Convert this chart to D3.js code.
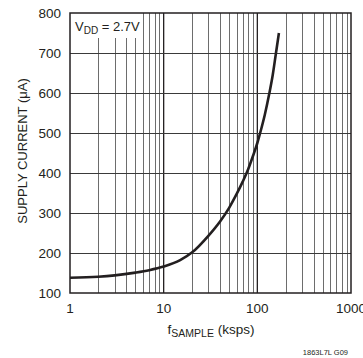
<!DOCTYPE html>
<html>
<head>
<meta charset="utf-8">
<script src="https://cdn.jsdelivr.net/npm/d3@7"></script>
<style>
  body { margin: 0; background: #fff; }
  text { font-family: 'Liberation Sans', Arial, sans-serif; fill: #231f20; }
</style>
</head>
<body>
<div id="chart"></div>
<script>
// data
const freq = [1, 2, 3, 5, 7, 10, 15, 20, 30, 40, 50, 60, 70, 80, 90, 100, 110, 120, 134, 146, 157, 170]
const current = [138, 140.5, 144, 151, 157, 166, 182, 201, 243, 279, 313, 347, 379, 410, 443, 475, 510, 545, 598, 645, 695, 750]
const yTicks = [100, 200, 300, 400, 500, 600, 700, 800]
const xTicks = [1, 10, 100, 1000]

const width = 363
const height = 358
const margin = { top: 13, left: 70, right: 12, bottom: 65 }

const svg = d3.select('#chart')
  .append('svg')
  .attr('width', width)
  .attr('height', height)

const x = d3.scaleLog().domain([1, 1000]).range([margin.left, width - margin.right])
const y = d3.scaleLinear().domain([100, 800]).range([height - margin.bottom, margin.top])

// minor grid (2..9 of each decade)
const minor = []
for (let d = 1; d < 1000; d *= 10) {
  for (let k = 2; k <= 9; k++) minor.push(d * k)
}
const decades = [10, 100]

const grid = svg.append('g')
grid.selectAll('.minor')
  .data(minor)
  .join('line')
  .attr('x1', d => Math.round(x(d)) + 0.5)
  .attr('x2', d => Math.round(x(d)) + 0.5)
  .attr('y1', y(100))
  .attr('y2', y(800))
  .attr('stroke', '#6d6d6d')
  .attr('stroke-width', 1)

grid.selectAll('.decade')
  .data(decades)
  .join('line')
  .attr('x1', d => x(d))
  .attr('x2', d => x(d))
  .attr('y1', y(100))
  .attr('y2', y(800))
  .attr('stroke', '#231f20')
  .attr('stroke-width', 1.3)

grid.selectAll('.hline')
  .data(yTicks.slice(1, -1))
  .join('line')
  .attr('x1', x(1))
  .attr('x2', x(1000))
  .attr('y1', d => Math.round(y(d)) + 0.5)
  .attr('y2', d => Math.round(y(d)) + 0.5)
  .attr('stroke', '#3a3a3a')
  .attr('stroke-width', 1.2)

// label box
svg.append('rect')
  .attr('x', x(1))
  .attr('y', y(800))
  .attr('width', x(6) - x(1) - 0.5)
  .attr('height', 25)
  .attr('fill', '#fff')

const vdd = svg.append('text')
  .attr('x', 75)
  .attr('y', 31)
  .style('font-size', '13px')
vdd.append('tspan').text('V')
vdd.append('tspan').attr('dy', 3).style('font-size', '10px').text('DD')
vdd.append('tspan').attr('dy', -3).text(' = 2.7V')

// frame
svg.append('rect')
  .attr('x', x(1))
  .attr('y', y(800))
  .attr('width', x(1000) - x(1))
  .attr('height', y(100) - y(800))
  .attr('fill', 'none')
  .attr('stroke', '#231f20')
  .attr('stroke-width', 1.5)

// curve
const line = d3.line()
  .x((d, i) => x(d))
  .y((d, i) => y(current[i]))
  .curve(d3.curveMonotoneX)

svg.append('path')
  .datum(freq)
  .attr('d', line)
  .attr('fill', 'none')
  .attr('stroke', '#231f20')
  .attr('stroke-width', 2.6)

// y tick labels
svg.append('g')
  .selectAll('text')
  .data(yTicks)
  .join('text')
  .attr('x', 61)
  .attr('y', d => y(d) + 5)
  .attr('text-anchor', 'end')
  .style('font-size', '13.5px')
  .text(d => d)

// x tick labels
svg.append('g')
  .selectAll('text')
  .data(xTicks)
  .join('text')
  .attr('x', d => x(d))
  .attr('y', 313)
  .attr('text-anchor', 'middle')
  .style('font-size', '13.5px')
  .text(d => d)

// axis titles
const xt = svg.append('text')
  .attr('x', 211)
  .attr('y', 334)
  .attr('text-anchor', 'middle')
  .style('font-size', '13.5px')
xt.append('tspan').text('f')
xt.append('tspan').attr('dy', 2.5).style('font-size', '10.5px').text('SAMPLE')
xt.append('tspan').attr('dy', -2.5).text(' (ksps)')

svg.append('text')
  .attr('transform', 'translate(27,151) rotate(-90)')
  .attr('text-anchor', 'middle')
  .style('font-size', '13px')
  .text('SUPPLY CURRENT (μA)')

svg.append('text')
  .attr('x', 348)
  .attr('y', 355)
  .attr('text-anchor', 'end')
  .style('font-size', '7.5px')
  .text('1863L7L G09')
</script>
</body>
</html>
